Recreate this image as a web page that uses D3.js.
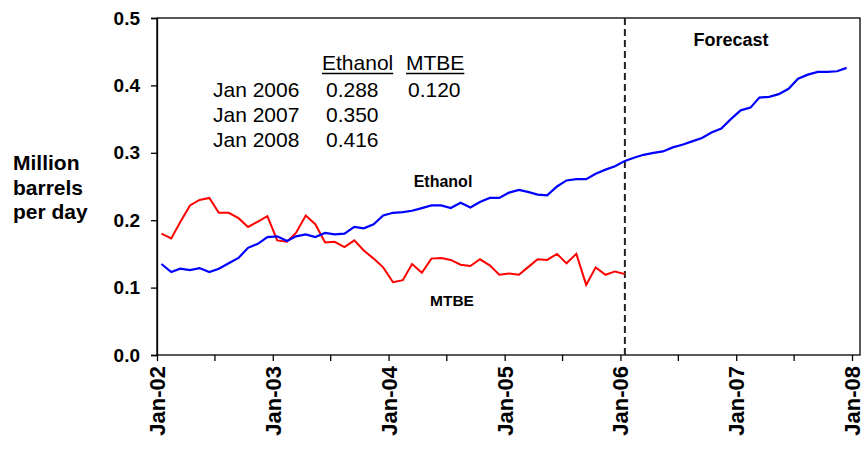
<!DOCTYPE html>
<html>
<head>
<meta charset="utf-8">
<script src="https://cdn.jsdelivr.net/npm/d3@7"></script>
<style>
  body { margin: 0; background: #fff; }
  svg text { font-family: "Liberation Sans", Arial, sans-serif; }
</style>
</head>
<body>
<svg id="chart" width="865" height="449"></svg>
<script>
// monthly values, Jan 2002 onward (million barrels per day)
var ethanol = [0.135, 0.123, 0.128, 0.126, 0.129, 0.123, 0.128, 0.136, 0.144, 0.159, 0.165, 0.175,
  0.176, 0.169, 0.176, 0.179, 0.175, 0.181, 0.179, 0.180, 0.190, 0.188, 0.194, 0.207,
  0.211, 0.212, 0.214, 0.218, 0.222, 0.222, 0.218, 0.226, 0.219, 0.227, 0.233, 0.233,
  0.241, 0.245, 0.242, 0.238, 0.237, 0.250, 0.259, 0.261, 0.261, 0.269, 0.275, 0.280,
  0.288, 0.293, 0.297, 0.300, 0.302, 0.308, 0.312, 0.317, 0.322, 0.330, 0.336, 0.350,
  0.363, 0.367, 0.382, 0.383, 0.387, 0.395, 0.410, 0.416, 0.420, 0.420, 0.421, 0.426];
var mtbe = [0.180, 0.173, 0.197, 0.222, 0.230, 0.233, 0.211, 0.211, 0.203, 0.190, 0.198, 0.206,
  0.170, 0.168, 0.181, 0.207, 0.194, 0.167, 0.168, 0.160, 0.170, 0.155, 0.143, 0.130,
  0.108, 0.111, 0.135, 0.122, 0.143, 0.144, 0.141, 0.134, 0.132, 0.142, 0.133, 0.119,
  0.121, 0.119, 0.130, 0.142, 0.141, 0.150, 0.136, 0.150, 0.104, 0.130, 0.119, 0.124,
  0.120];
var yTicks = [0, 0.1, 0.2, 0.3, 0.4, 0.5];
var tableCols = ["Ethanol", "MTBE"];
var tableRows = ["Jan 2006", "Jan 2007", "Jan 2008"];
var tableEthanol = ["0.288", "0.350", "0.416"];
var tableMtbe = ["0.120", "", ""];
var forecastStart = new Date(2006, 0, 15);

var svg = d3.select("#chart");
var plotL = 157, plotR = 860, plotT = 18, plotB = 355;

var x = d3.scaleTime()
  .domain([new Date(2002, 0, 1), new Date(2008, 0, 1)])
  .range([plotL, 852]);
var y = d3.scaleLinear().domain([0, 0.5]).range([plotB, plotT]);

function monthDate(i) { return new Date(2002, i, 15); }

// plot frame
svg.append("rect")
  .attr("x", plotL).attr("y", plotT)
  .attr("width", plotR - plotL).attr("height", plotB - plotT)
  .attr("fill", "none").attr("stroke", "#000").attr("stroke-width", 1.3);

// y axis
var yAxis = svg.append("g")
  .attr("transform", "translate(" + plotL + ",0)")
  .call(d3.axisLeft(y).tickValues(yTicks).tickFormat(d3.format(".1f")).tickSize(6).tickPadding(11));
yAxis.select(".domain").attr("stroke-width", 1.3);
yAxis.selectAll("line").attr("stroke-width", 1.3);
yAxis.selectAll("text")
  .attr("font-size", "19px").attr("font-weight", "bold").attr("fill", "#000")
  .attr("font-family", "Liberation Sans, Arial, sans-serif");

// x axis: major ticks in January, minor ticks in July
var xTickDates = d3.timeMonth.every(6).range(new Date(2002, 0, 1), new Date(2008, 0, 2));
var xAxis = svg.append("g")
  .attr("transform", "translate(0," + plotB + ")")
  .call(d3.axisBottom(x).tickValues(xTickDates).tickSize(6).tickFormat(""));
xAxis.select(".domain").remove();
xAxis.selectAll("line").attr("stroke-width", 1.3);

var fmt = d3.timeFormat("%b-%y");
svg.append("g").selectAll("text")
  .data(xTickDates.filter(function(d) { return d.getMonth() == 0; }))
  .join("text")
  .attr("transform", function(d) { return "translate(" + (x(d) + 8) + "," + (plotB + 11) + ") rotate(-90)"; })
  .attr("text-anchor", "end")
  .attr("font-size", "22px").attr("font-weight", "bold")
  .text(fmt);

// y title
svg.append("text")
  .attr("font-size", "21px").attr("font-weight", "bold")
  .selectAll("tspan")
  .data(["Million", "barrels", "per day"])
  .join("tspan")
  .attr("x", 13)
  .attr("y", function(d, i) { return 170 + i * 24.5; })
  .text(function(d) { return d; });

// forecast divider
svg.append("line")
  .attr("x1", x(forecastStart)).attr("x2", x(forecastStart))
  .attr("y1", plotT).attr("y2", plotB)
  .attr("stroke", "#222").attr("stroke-width", 2)
  .attr("stroke-dasharray", "7,4");

// series
var line = d3.line()
  .x(function(d, i) { return x(monthDate(i)); })
  .y(function(d) { return y(d); });

svg.append("path").datum(mtbe)
  .attr("d", line)
  .attr("fill", "none").attr("stroke", "#ff0000").attr("stroke-width", 2);
svg.append("path").datum(ethanol)
  .attr("d", line)
  .attr("fill", "none").attr("stroke", "#0000ff").attr("stroke-width", 2.2);

// series labels
svg.append("text").attr("x", 443).attr("y", 186.5)
  .attr("text-anchor", "middle").attr("font-size", "16px").attr("font-weight", "bold")
  .text("Ethanol");
svg.append("text").attr("x", 452).attr("y", 306)
  .attr("text-anchor", "middle").attr("font-size", "15.5px").attr("font-weight", "bold")
  .text("MTBE");
svg.append("text").attr("x", 731).attr("y", 46)
  .attr("text-anchor", "middle").attr("font-size", "18px").attr("font-weight", "bold")
  .text("Forecast");

// little table of values
var colX = [322, 406];
var tbl = svg.append("g").attr("font-size", "21px").attr("fill", "#000");
tableCols.forEach(function(c, j) {
  var t = tbl.append("text").attr("x", colX[j]).attr("y", 70).text(c);
  var w = t.node().getComputedTextLength();
  tbl.append("line")
    .attr("x1", colX[j]).attr("x2", colX[j] + w)
    .attr("y1", 73.5).attr("y2", 73.5)
    .attr("stroke", "#000").attr("stroke-width", 1.3);
});
tableRows.forEach(function(r, i) {
  var yy = 97 + i * 24.8;
  tbl.append("text").attr("x", 213).attr("y", yy).text(r);
  tbl.append("text").attr("x", 326).attr("y", yy).text(tableEthanol[i]);
  tbl.append("text").attr("x", 408).attr("y", yy).text(tableMtbe[i]);
});
</script>
</body>
</html>
